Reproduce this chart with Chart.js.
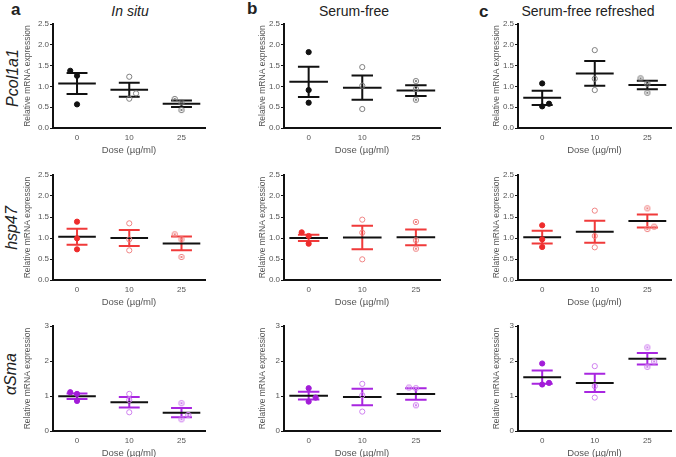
<!DOCTYPE html>
<html lang="en">
<head>
<meta charset="UTF-8">
<title>Relative mRNA expression by dose</title>
<script src="https://cdn.jsdelivr.net/npm/chart.js"></script>
<style>
    body {
        margin: 0;
        width: 676px;
        height: 457px;
        overflow: hidden;
        background: #fff;
        font-family: "Liberation Sans", Arial, sans-serif;
        position: relative;
    }
    canvas { position: absolute; }
    .lbl { position: absolute; white-space: nowrap; color: #222; line-height: 1; }
    .letter { font-weight: bold; font-size: 17px; }
    .title { font-size: 14px; transform: translate(-50%, -50%); }
    .gene { font-style: italic; font-size: 16px; transform: translate(-50%, -50%) rotate(-90deg); }
</style>
</head>
<body>
<div class="lbl letter" style="left:11px; top:1px;">a</div>
<div class="lbl letter" style="left:247px; top:0px;">b</div>
<div class="lbl letter" style="left:479px; top:3px;">c</div>
<div class="lbl title" style="left:130px; top:11px; font-style:italic;">In situ</div>
<div class="lbl title" style="left:354px; top:11px;">Serum-free</div>
<div class="lbl title" style="left:588px; top:11px;">Serum-free refreshed</div>
<div class="lbl gene" style="left:13px; top:78px;">Pcol1a1</div>
<div class="lbl gene" style="left:12px; top:228px;">hsp47</div>
<div class="lbl gene" style="left:11px; top:374px;">αSma</div>

<script>
    const doses = ['0', '10', '25'];

    // Pcol1a1
    const pcolInSitu = [[1.376, 1.256, 0.568], [1.232, 0.832, 0.704], [0.696, 0.616, 0.432]];
    const pcolInSituMean = [1.07, 0.92, 0.584];
    const pcolInSituSem = [0.252, 0.168, 0.08];
    const pcolSerumFree = [[1.824, 0.912, 0.608], [1.464, 1.016, 0.456], [1.128, 0.936, 0.68]];
    const pcolSerumFreeMean = [1.11, 0.97, 0.9];
    const pcolSerumFreeSem = [0.364, 0.292, 0.128];
    const pcolRefreshed = [[1.072, 0.584, 0.52], [1.872, 1.184, 0.912], [1.192, 1.064, 0.848]];
    const pcolRefreshedMean = [0.726, 1.312, 1.034];
    const pcolRefreshedSem = [0.172, 0.296, 0.1];

    // hsp47
    const hspInSitu = [[1.389, 0.992, 0.73], [1.349, 0.968, 0.706], [1.087, 0.968, 0.548]];
    const hspInSituMean = [1.032, 1.0, 0.871];
    const hspInSituSem = [0.19, 0.19, 0.163];
    const hspSerumFree = [[1.135, 1.048, 0.865], [1.437, 1.127, 0.492], [1.381, 0.944, 0.746]];
    const hspSerumFreeMean = [1.002, 1.012, 1.017];
    const hspSerumFreeSem = [0.075, 0.278, 0.187];
    const hspRefreshed = [[1.302, 0.968, 0.786], [1.651, 1.048, 0.778], [1.706, 1.214, 1.27]];
    const hspRefreshedMean = [1.02, 1.151, 1.403];
    const hspRefreshedSem = [0.151, 0.262, 0.155];

    // aSma
    const smaInSitu = [[1.108, 1.06, 0.86], [1.06, 0.888, 0.535], [0.793, 0.458, 0.334]];
    const smaInSituMean = [0.993, 0.823, 0.525];
    const smaInSituSem = [0.077, 0.148, 0.134];
    const smaSerumFree = [[1.223, 0.955, 0.84], [1.347, 1.022, 0.554], [1.242, 1.223, 0.735]];
    const smaSerumFreeMean = [1.01, 0.971, 1.056];
    const smaSerumFreeSem = [0.11, 0.234, 0.163];
    const smaRefreshed = [[1.929, 1.375, 1.328], [1.853, 1.28, 0.955], [2.388, 1.987, 1.834]];
    const smaRefreshedMean = [1.538, 1.375, 2.063];
    const smaRefreshedSem = [0.191, 0.258, 0.163];

    // side-by-side spread of overlapping points (-1 left, 0 centre, 1 right)
    const spread = [
        [[[-1,0,0],[0,1,0],[-1,0,0]], [[0,0,0],[0,0,0],[0,0,0]], [[0,1,0],[0,0,0],[-1,0,0]]],
        [[[0,0,0],[0,0,0],[-1,0,0]], [[-1,0,0],[0,0,0],[0,0,0]], [[0,0,0],[0,0,0],[0,0,1]]],
        [[[-1,0,0],[0,0,0],[0,1,0]], [[0,1,0],[0,0,0],[-1,0,0]], [[0,1,0],[0,0,0],[0,1,0]]]
    ];

    const panelData = [
        [[pcolInSitu, pcolInSituMean, pcolInSituSem], [pcolSerumFree, pcolSerumFreeMean, pcolSerumFreeSem], [pcolRefreshed, pcolRefreshedMean, pcolRefreshedSem]],
        [[hspInSitu, hspInSituMean, hspInSituSem], [hspSerumFree, hspSerumFreeMean, hspSerumFreeSem], [hspRefreshed, hspRefreshedMean, hspRefreshedSem]],
        [[smaInSitu, smaInSituMean, smaInSituSem], [smaSerumFree, smaSerumFreeMean, smaSerumFreeSem], [smaRefreshed, smaRefreshedMean, smaRefreshedSem]]
    ];

    const cols = [
        { axisX: 53, right: 207, yw: 30 },
        { axisX: 284, right: 442, yw: 26 },
        { axisX: 518, right: 673, yw: 26 }
    ];
    const rows = [
        { top: 24, bottom: 128, max: 2.5, step: 0.5, digits: 1, err: '#111', fill: '#111', open: '#808080' },
        { top: 175, bottom: 280, max: 2.5, step: 0.5, digits: 1, err: '#f03a3a', fill: '#ee2c2c', open: '#f08585' },
        { top: 326, bottom: 431, max: 3, step: 1, digits: 0, err: '#a826e0', fill: '#a21cd8', open: '#cf80ef' }
    ];

    function crossedCircle(color) {
        const c = document.createElement('canvas');
        c.width = 8; c.height = 8;
        const g = c.getContext('2d');
        g.strokeStyle = color;
        g.lineWidth = 1;
        g.beginPath(); g.arc(4, 4, 2.7, 0, 2 * Math.PI); g.stroke();
        g.beginPath();
        g.moveTo(2.8, 2.8); g.lineTo(5.2, 5.2);
        g.moveTo(5.2, 2.8); g.lineTo(2.8, 5.2);
        g.stroke();
        return c;
    }

    const meanSemPlugin = {
        id: 'meanSem',
        beforeDatasetsDraw(chart, args, opts) {
            const { ctx } = chart;
            const x = chart.scales.x, y = chart.scales.y;
            ctx.save();
            ctx.lineWidth = 2;
            opts.means.forEach((m, i) => {
                const cx = x.getPixelForValue(i);
                const hw = x.getPixelForValue(i + 0.36) - cx;
                const cw = x.getPixelForValue(i + 0.2) - cx;
                const yHi = y.getPixelForValue(m + opts.sems[i]);
                const yLo = y.getPixelForValue(m - opts.sems[i]);
                const yM = y.getPixelForValue(m);
                ctx.strokeStyle = opts.errColor;
                ctx.beginPath();
                ctx.moveTo(cx, yHi); ctx.lineTo(cx, yLo);
                ctx.moveTo(cx - cw, yHi); ctx.lineTo(cx + cw, yHi);
                ctx.moveTo(cx - cw, yLo); ctx.lineTo(cx + cw, yLo);
                ctx.stroke();
                ctx.strokeStyle = '#111';
                ctx.beginPath();
                ctx.moveTo(cx - hw, yM); ctx.lineTo(cx + hw, yM);
                ctx.stroke();
            });
            ctx.restore();
        }
    };

    const padTop = 8, padRight = 3, xh = 28;
    const tickFont = { family: '"Liberation Sans", Arial, sans-serif', size: 8 };

    rows.forEach((row, r) => {
        cols.forEach((col, c) => {
            const [points, means, sems] = panelData[r][c];
            const canvas = document.createElement('canvas');
            const w = col.yw + (col.right - col.axisX) + padRight;
            const h = padTop + (row.bottom - row.top) + xh;
            canvas.width = w; canvas.height = h;
            canvas.style.left = (col.axisX - col.yw) + 'px';
            canvas.style.top = (row.top - padTop) + 'px';
            document.body.appendChild(canvas);

            const styles = ['circle', 'circle', crossedCircle(row.open)];
            const datasets = points.map((vals, i) => ({
                data: vals.map((v, k) => ({ x: i + spread[r][c][i][k] * 0.13, y: v })),
                pointStyle: styles[i],
                pointRadius: 2.6,
                borderWidth: 1,
                borderColor: i === 0 ? row.fill : row.open,
                backgroundColor: i === 0 ? row.fill : 'rgba(255,255,255,0)'
            }));

            new Chart(canvas, {
                type: 'scatter',
                data: { datasets },
                plugins: [meanSemPlugin],
                options: {
                    responsive: false,
                    animation: false,
                    devicePixelRatio: 1,
                    layout: { padding: { top: padTop, right: padRight, left: 0, bottom: 0 } },
                    plugins: {
                        legend: { display: false },
                        tooltip: { enabled: false },
                        meanSem: { means: means, sems: sems, errColor: row.err }
                    },
                    scales: {
                        x: {
                            type: 'linear',
                            min: -0.46,
                            max: 2.45,
                            afterBuildTicks: s => { s.ticks = doses.map((d, i) => ({ value: i })); },
                            afterFit: s => { s.height = xh; },
                            ticks: { callback: (v, i) => doses[i], color: '#555', font: tickFont, padding: 2, maxRotation: 0, autoSkip: false },
                            grid: { drawOnChartArea: false, tickLength: 3, tickColor: 'rgba(0,0,0,0)' },
                            border: { color: '#111', width: 2 },
                            title: { display: true, text: 'Dose (µg/ml)', color: '#555', font: { family: tickFont.family, size: 9.5 }, padding: 0 }
                        },
                        y: {
                            min: 0,
                            max: row.max,
                            afterFit: s => { s.width = col.yw; },
                            ticks: { stepSize: row.step, callback: v => v.toFixed(row.digits), color: '#555', font: tickFont, padding: 1 },
                            grid: { drawOnChartArea: false, tickLength: 3, tickColor: '#111', lineWidth: 1 },
                            border: { color: '#111', width: 2 },
                            title: { display: true, text: 'Relative mRNA expression', color: '#555', font: { family: tickFont.family, size: 8.5 }, padding: 0 }
                        }
                    }
                }
            });
        });
    });
</script>
</body>
</html>
